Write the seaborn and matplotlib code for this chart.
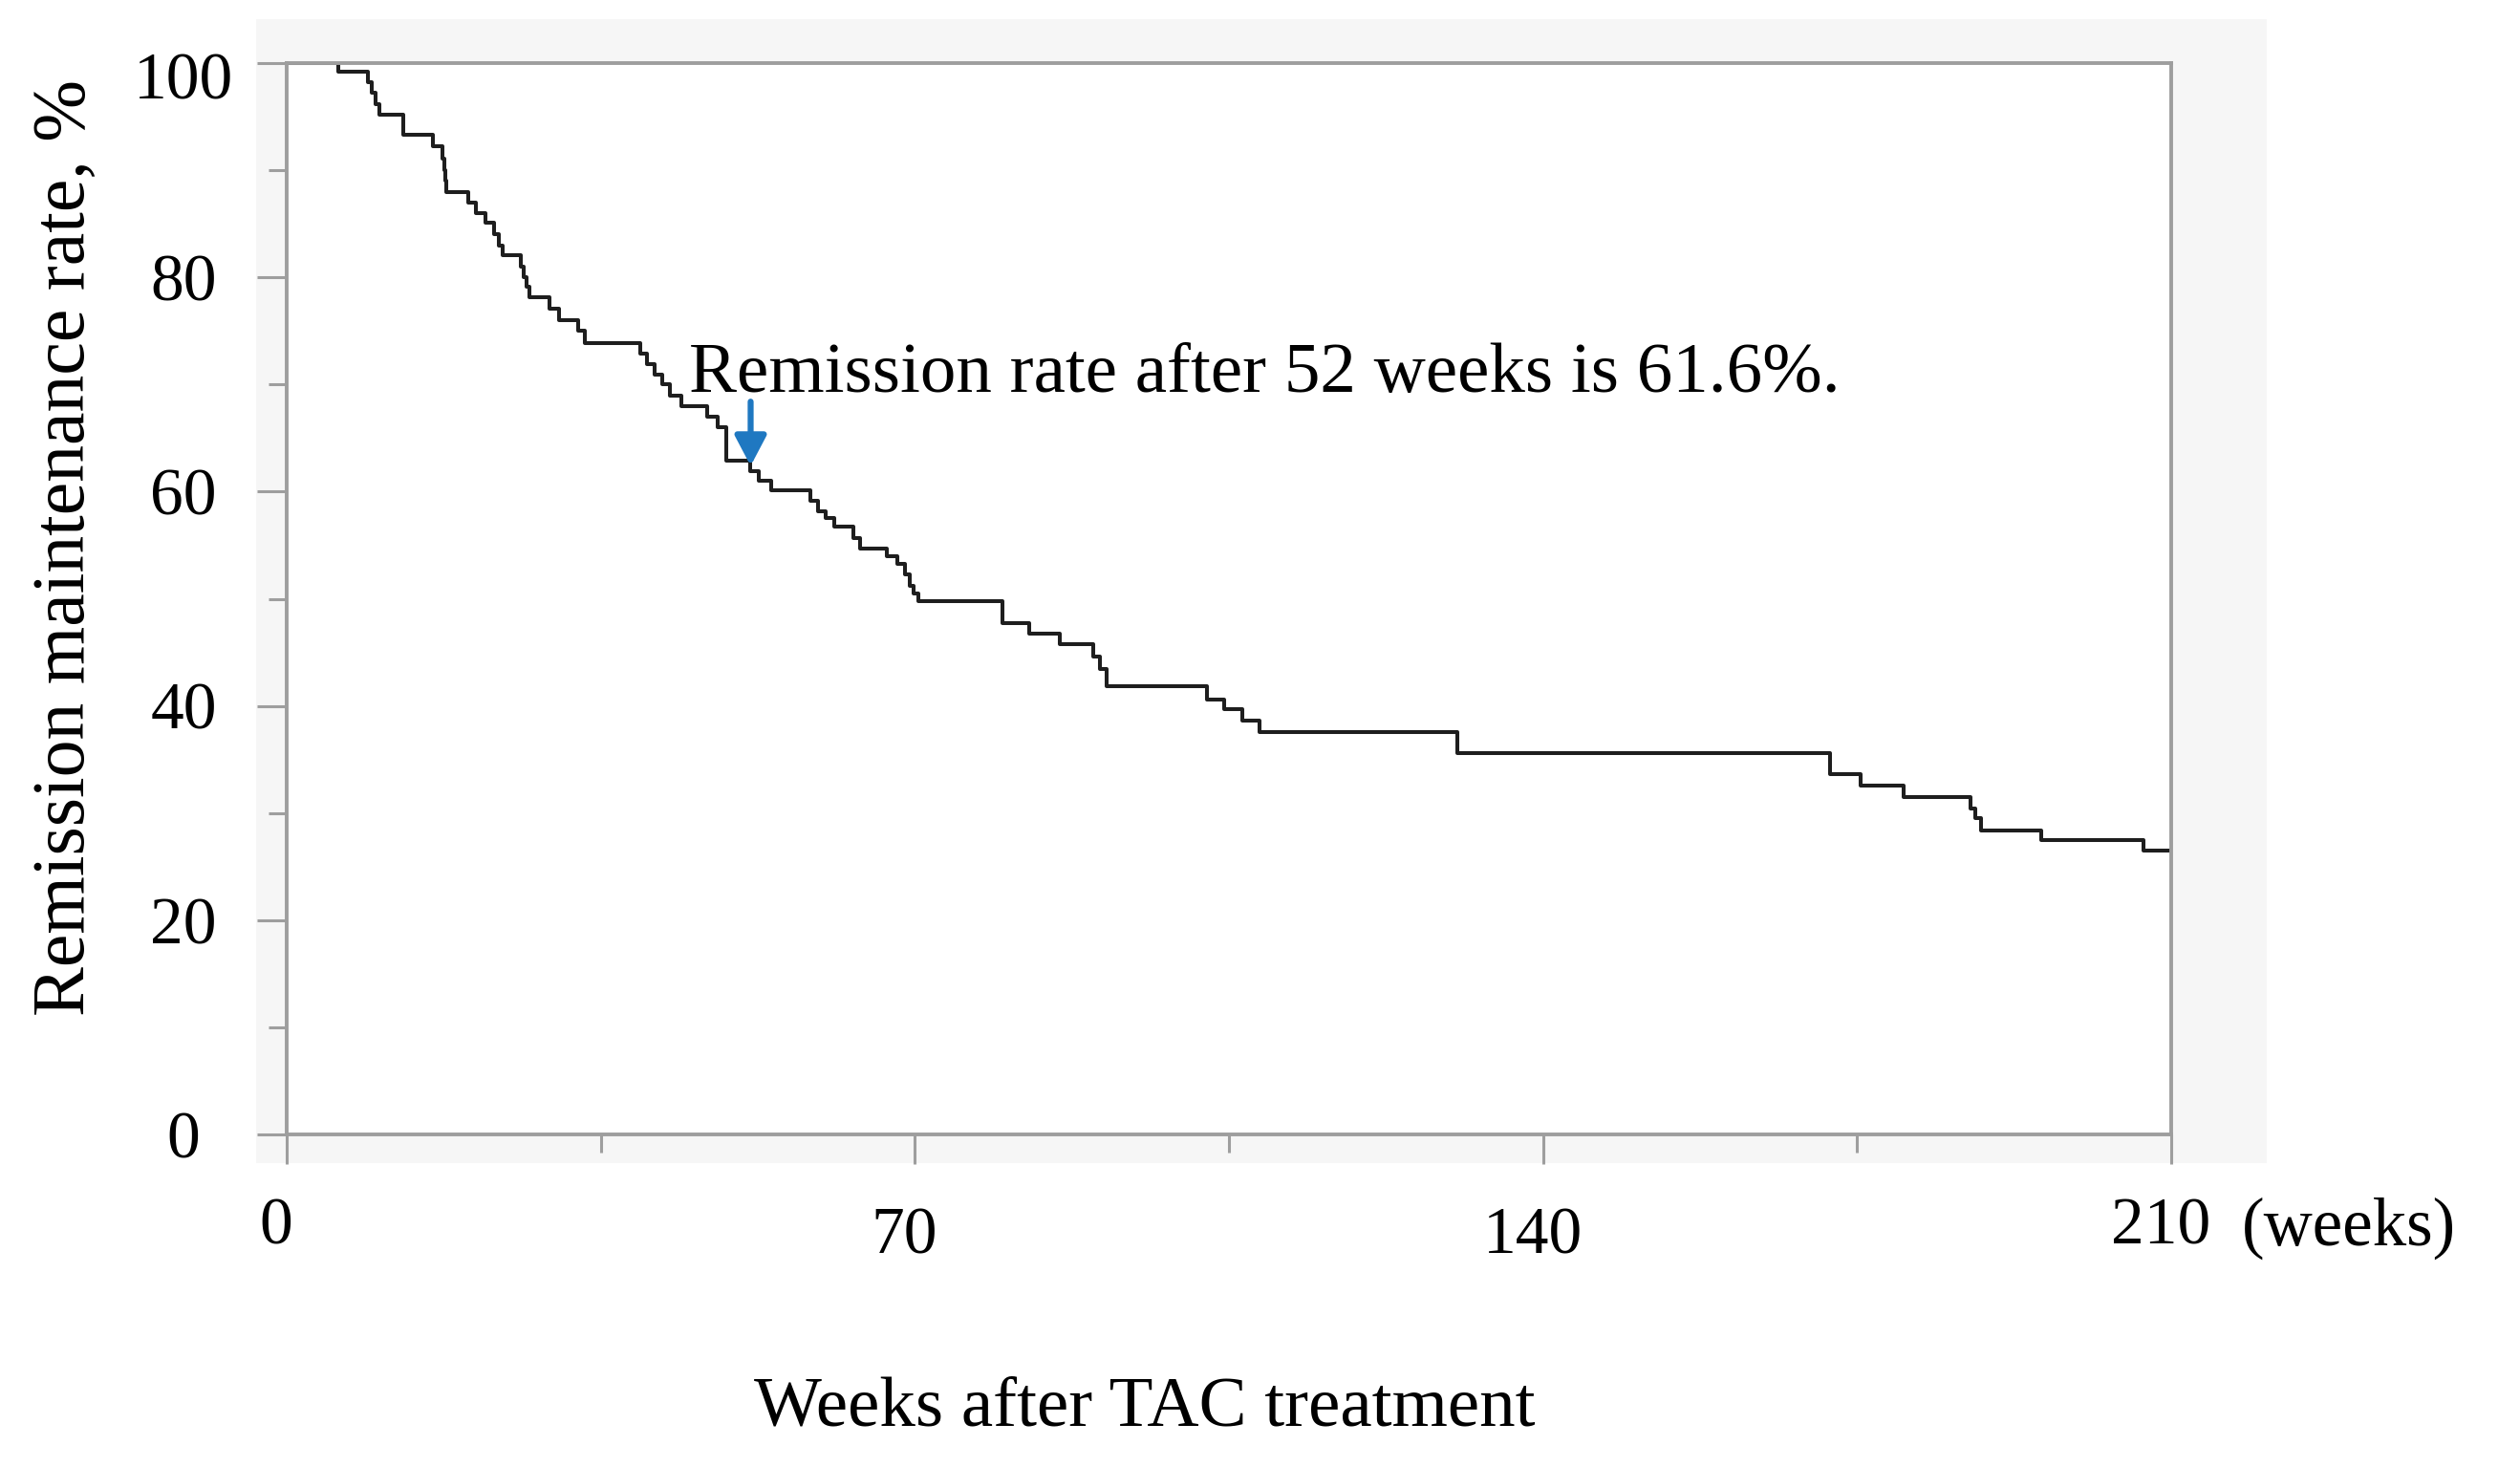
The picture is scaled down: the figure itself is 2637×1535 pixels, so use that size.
import numpy as np
import pandas as pd
import matplotlib
matplotlib.use("Agg")
import matplotlib.pyplot as plt
import matplotlib.transforms as mtransforms
from matplotlib.patches import Rectangle
import seaborn as sns

# ---------------- data ----------------
weeks = [0, 5.7, 9.05, 9.5, 9.9, 10.3, 12.95, 16.3, 17.4, 17.55, 17.65, 17.75,
         20.2, 21.1, 22.1, 23.1, 23.6, 24.1, 26.1, 26.4, 26.7, 27.0, 29.3, 30.35,
         32.5, 33.2, 39.4, 40.2, 41.0, 41.9, 42.7, 44.0, 46.9, 48.0, 49.0, 51.6,
         52.6, 53.95, 58.4, 59.2, 60.1, 61.05, 63.2, 63.9, 66.9, 68.0, 68.9, 69.4,
         69.9, 70.4, 79.8, 82.7, 86.2, 89.9, 90.6, 91.4, 102.6, 104.5, 106.5,
         108.4, 130.4, 172.0, 175.4, 180.2, 187.6, 188.2, 188.8, 195.5, 206.9, 210]
remission = [100, 99.2, 98.2, 97.2, 96.2, 95.2, 93.3, 92.2, 91.1, 90.0, 89.0, 88.0,
             87.0, 86.0, 85.1, 84.0, 83.0, 82.1, 81.0, 80.0, 79.1, 78.1, 77.1, 76.0,
             75.0, 73.9, 72.9, 71.9, 70.9, 70.0, 69.0, 68.0, 67.0, 66.0, 62.9, 61.9,
             61.0, 60.1, 59.1, 58.2, 57.5, 56.7, 55.7, 54.7, 54.0, 53.3, 52.3, 51.2,
             50.5, 49.8, 47.7, 46.7, 45.8, 44.6, 43.4, 41.8, 40.6, 39.7, 38.6,
             37.6, 35.6, 33.6, 32.6, 31.5, 30.4, 29.5, 28.4, 27.5, 26.5, 26.5]

x_major_ticks = [0, 70, 140, 210]
x_minor_ticks = [35, 105, 175]
x_tick_labels = ["0", "70", "140", "210"]
y_major_ticks = [0, 20, 40, 60, 80, 100]
y_minor_ticks = [10, 30, 50, 70, 90]
y_tick_labels = ["0", "20", "40", "60", "80", "100"]

y_title = "Remission maintenance rate, %"
x_title = "Weeks after TAC treatment"
unit_text = "(weeks)"
note_text = "Remission rate after 52 weeks is 61.6%."
arrow_week = 51.7

# ---------------- style ----------------
sns.set_theme(style="white")
plt.rcParams["font.family"] = ["Liberation Serif", "DejaVu Serif"]
plt.rcParams["text.color"] = "black"

W, H, DPI = 2637, 1535, 100
fig = plt.figure(figsize=(W / DPI, H / DPI), dpi=DPI)
fig.patch.set_facecolor("white")

# light grey chart panel behind the plot area
fig.patches.append(Rectangle((268 / W, 1 - 1217 / H), (2372 - 268) / W, (1217 - 20) / H,
                             transform=fig.transFigure, facecolor="#f6f6f6",
                             edgecolor="none", zorder=-5))

ax = fig.add_axes([300 / W, 1 - 1187 / H, (2272 - 300) / W, (1187 - 66) / H])
ax.set_facecolor("white")

df = pd.DataFrame({"week": weeks, "rate": remission})
sns.lineplot(data=df, x="week", y="rate", ax=ax, drawstyle="steps-post",
             color="#1e1e1e", linewidth=2.9, estimator=None, sort=False)

ax.set_xlim(0, 210)
ax.set_ylim(0, 100)
ax.set_xlabel("")
ax.set_ylabel("")

grey = "#9e9e9e"
for sp in ax.spines.values():
    sp.set_visible(True)
    sp.set_color(grey)
    sp.set_linewidth(2.8)

ax.set_xticks(x_major_ticks)
ax.set_xticks(x_minor_ticks, minor=True)
ax.set_xticklabels(x_tick_labels)
ax.set_yticks(y_major_ticks)
ax.set_yticks(y_minor_ticks, minor=True)
ax.set_yticklabels(y_tick_labels)

ax.tick_params(axis="both", which="major", direction="out", length=22, width=2.2,
               color=grey, labelsize=50, labelcolor="black")
ax.tick_params(axis="both", which="minor", direction="out", length=13.5, width=2.2,
               color=grey)
ax.tick_params(axis="y", which="major", pad=55.8)
ax.tick_params(bottom=True, left=True, top=False, right=False, which="both")

for lab in ax.get_yticklabels():
    lab.set_horizontalalignment("center")

# y label "100" sits a little lower than its tick
ytk = ax.yaxis.get_major_ticks()
ytk[-1].label1.set_transform(ytk[-1].label1.get_transform() +
                             mtransforms.ScaledTranslation(0, -13 / DPI, fig.dpi_scale_trans))

# staggered x tick labels
pads = [25.5, 32.7, 32.7, 25.5]
for tk, p in zip(ax.xaxis.get_major_ticks(), pads):
    tk.set_pad(p)
    tk.label1.set_transform(tk.label1.get_transform() +
                            mtransforms.ScaledTranslation(-11 / DPI, 0, fig.dpi_scale_trans))

# unit label next to the last tick label
fig.text(2346 / W, 1 - 1303 / H, unit_text, fontsize=51, ha="left", va="baseline",
         color="black")

# axis titles
fig.text(69 / W, 1 - 573 / H, y_title, fontsize=56, rotation=90, ha="center",
         va="center", color="black")
fig.text(1198 / W, 1 - 1492 / H, x_title, fontsize=54, ha="center", va="baseline",
         color="black")

# annotation and arrow
ax.text(44.8, 69.3, note_text, fontsize=54, ha="left", va="baseline", color="black")
ax.annotate("", xy=(arrow_week, 62.4), xytext=(arrow_week, 68.4),
            arrowprops=dict(arrowstyle="-|>,head_length=1.9,head_width=1.0",
                            mutation_scale=10, color="#1f78c1", lw=4.5,
                            shrinkA=0, shrinkB=0))

fig.savefig("out.png", dpi=DPI)
